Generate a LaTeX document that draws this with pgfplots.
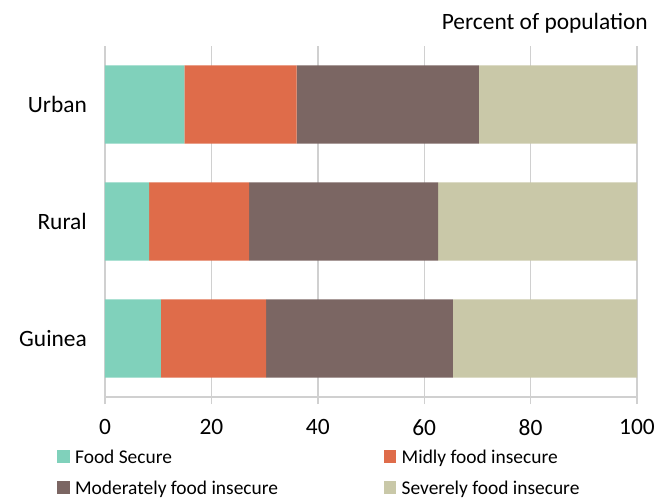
\documentclass[border=0pt]{standalone}
\usepackage{pgfplots}
\pgfplotsset{compat=1.18}
\usepackage{fontspec}
\setmainfont{Carlito}
\definecolor{cSec}{RGB}{128,209,187}
\definecolor{cMild}{RGB}{223,108,74}
\definecolor{cMod}{RGB}{123,102,99}
\definecolor{cSev}{RGB}{201,200,168}
\definecolor{cGrid}{RGB}{208,208,208}
\begin{document}
\begin{tikzpicture}
\useasboundingbox (-105bp,-101bp) rectangle (553bp,397bp);
\begin{axis}[
  scale only axis, width=532bp, height=351bp,
  xbar stacked, bar width=0.67,
  xmin=0, xmax=100, ymin=-0.5, ymax=2.5,
  xtick={0,20,40,60,80,100},
  ytick={0,1,2}, yticklabels={Guinea,Rural,Urban},
  xmajorgrids, grid style={draw=cGrid, line width=1.4bp},
  axis x line*=bottom, axis y line*=left,
  y axis line style={draw=none},
  x axis line style={draw=cGrid, line width=1.4bp},
  ytick style={draw=none},
  xtick style={draw=cGrid, line width=1.4bp},
  tick align=outside, major tick length=7bp,
  /pgf/number format/assume math mode=true,
  ticklabel style={font=\fontsize{23.5}{28}\selectfont},
  xticklabel style={anchor=north, inner sep=0pt, yshift=-15bp},
  yticklabel style={anchor=east, inner sep=0pt, xshift=-11bp},
  legend columns=2,
  legend cell align=left,
  legend image code/.code={\fill[#1] (0bp,-5bp) rectangle (12.6bp,7.6bp);},
  legend style={at={(axis description cs:0,0)}, anchor=north west,
    xshift=-48bp, yshift=-52bp, draw=none, fill=none, inner sep=0pt,
    outer sep=0pt, column sep=0pt, row sep=13bp,
    font=\fontsize{19.5}{22}\selectfont,
    nodes={inner xsep=5.5bp, inner ysep=0pt, text height=14bp, text depth=4bp}},
]
\addplot[fill=cSec, draw=none] coordinates {(10.5,0) (8.3,1) (14.9,2)};
\addlegendentry{\makebox[303bp][l]{Food Secure}}
\addplot[fill=cMild, draw=none] coordinates {(19.8,0) (18.8,1) (21.1,2)};
\addlegendentry{Midly food insecure}
\addplot[fill=cMod, draw=none] coordinates {(35.1,0) (35.5,1) (34.3,2)};
\addlegendentry{\makebox[303bp][l]{Moderately food insecure}}
\addplot[fill=cSev, draw=none] coordinates {(34.6,0) (37.4,1) (29.7,2)};
\addlegendentry{Severely food insecure}
\end{axis}
\node[anchor=base east, font=\fontsize{23.5}{28}\selectfont, inner sep=0pt] at (543bp,367bp) {Percent of population};
\end{tikzpicture}
\end{document}
